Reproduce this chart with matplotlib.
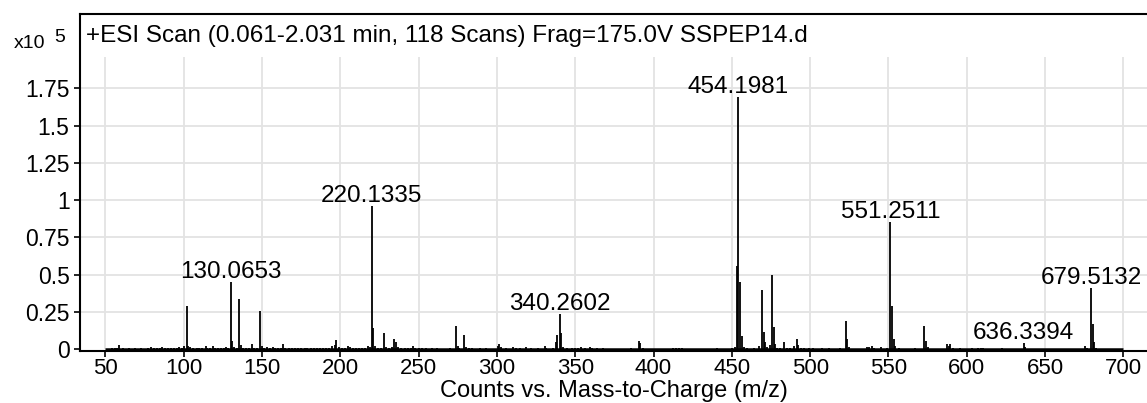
import matplotlib
matplotlib.use("Agg")
import matplotlib.pyplot as plt

# Centroided peaks: m/z and counts (x10^5)
mz = [
    51, 54, 56, 57.5, 59, 61, 63, 65, 67, 69, 71, 73, 75, 77, 79, 81, 83, 85, 86, 88,
    90, 92, 94, 96, 97, 99, 100.5, 102.05, 103, 104, 106, 108.5, 110, 112, 114, 115,
    117, 119, 120, 122, 124, 125.5, 127, 128, 130.0653, 131.07, 132, 134, 135.5, 136.5,
    138, 140, 142, 143.5, 145, 147, 149.0, 150, 151, 153, 155, 157, 158, 160, 162,
    163.5, 165, 167, 169, 171, 173, 175, 177.5, 179, 181, 183, 185, 187, 189, 191,
    193, 195, 196.5, 197.5, 199, 201, 203, 205, 206, 208, 210, 212, 214, 216, 218,
    219, 220.1335, 221.14, 222, 224, 226, 227.8, 229, 231, 233, 234.6, 235.6, 237,
    239, 241, 243, 245, 246.5, 248, 250, 252, 255, 258.6, 262, 266, 270, 273.9,
    274.9, 276, 278.9, 280, 282, 284, 289, 293, 296, 300.5, 301.5, 302.5, 306,
    310.5, 312, 315, 318.5, 322, 326, 330.5, 331.5, 336, 337.5, 338.6, 340.2602,
    341.2, 342.5, 345, 348, 350, 352, 354, 356, 359.3, 360.5, 364, 368, 372, 378,
    385.5, 390.5, 391.5, 393, 398, 405, 412.3, 414.5, 416.5, 418.5, 425, 432,
    440.4, 446, 450, 452, 453.2, 454.1981, 455.2, 456.2, 457.5, 460, 464, 467.5,
    469.3, 470.3, 471.3, 472.5, 474.3, 475.8, 476.8, 477.8, 479, 481, 483.6, 485,
    487, 489.5, 491.5, 492.5, 494, 496, 499, 502, 507.7, 512, 518.8, 522.8, 523.8,
    525, 530, 536, 537.5, 539.4, 541, 545, 549, 551.2511, 552.25, 553.3, 554.5,
    557, 561, 567, 573.0, 574.0, 575.2, 580, 587.3, 588.5, 589.5, 591, 596, 603.4,
    607.5, 609, 610.5, 615, 622.4, 628, 636.3394, 637.3, 645, 655, 665, 675.6,
    676.6, 679.5132, 680.52, 681.5, 682.5, 690, 698,
]
counts = [
    0.004, 0.006, 0.012, 0.008, 0.03, 0.006, 0.005, 0.006, 0.004, 0.012, 0.005, 0.006,
    0.005, 0.008, 0.018, 0.007, 0.006, 0.01, 0.018, 0.008,
    0.01, 0.012, 0.006, 0.012, 0.015, 0.01, 0.02, 0.288, 0.022, 0.015, 0.01, 0.012,
    0.01, 0.008, 0.022, 0.012,
    0.008, 0.024, 0.012, 0.01, 0.012, 0.008, 0.014, 0.01, 0.449, 0.058, 0.015, 0.01,
    0.34, 0.03,
    0.012, 0.008, 0.01, 0.035, 0.012, 0.01, 0.259, 0.025, 0.01, 0.015, 0.01, 0.015,
    0.012, 0.008, 0.01,
    0.035, 0.01, 0.008, 0.008, 0.01, 0.008, 0.008, 0.012, 0.008, 0.008, 0.008, 0.006,
    0.008, 0.006, 0.008,
    0.01, 0.02, 0.03, 0.065, 0.015, 0.01, 0.012, 0.02, 0.018, 0.012, 0.01, 0.008, 0.01,
    0.01, 0.025,
    0.015, 0.96, 0.145, 0.02, 0.012, 0.01, 0.109, 0.015, 0.012, 0.015, 0.069, 0.05,
    0.015,
    0.01, 0.012, 0.008, 0.012, 0.02, 0.01, 0.008, 0.006, 0.006, 0.01, 0.006, 0.005,
    0.006, 0.156,
    0.025, 0.012, 0.096, 0.015, 0.01, 0.006, 0.008, 0.008, 0.005, 0.025, 0.035, 0.015,
    0.006,
    0.015, 0.01, 0.008, 0.018, 0.006, 0.006, 0.022, 0.012, 0.008, 0.05, 0.096, 0.237,
    0.107, 0.015, 0.008, 0.01, 0.012, 0.012, 0.015, 0.006, 0.015, 0.008, 0.008, 0.008,
    0.005, 0.004,
    0.01, 0.058, 0.045, 0.01, 0.004, 0.004, 0.01, 0.01, 0.01, 0.01, 0.004, 0.004,
    0.008, 0.005, 0.006, 0.015, 0.56, 1.69, 0.45, 0.09, 0.015, 0.008, 0.006, 0.02,
    0.40, 0.118, 0.05, 0.015, 0.03, 0.50, 0.148, 0.035, 0.012, 0.008, 0.047, 0.01,
    0.008, 0.025, 0.067, 0.03, 0.012, 0.012, 0.01, 0.008, 0.008, 0.008, 0.01, 0.19,
    0.067,
    0.015, 0.005, 0.015, 0.018, 0.02, 0.01, 0.018, 0.006, 0.852, 0.29, 0.07, 0.02,
    0.008, 0.005, 0.01, 0.156, 0.058, 0.015, 0.005, 0.035, 0.02, 0.035, 0.012, 0.01,
    0.008,
    0.012, 0.012, 0.012, 0.005, 0.008, 0.004, 0.04, 0.015, 0.004, 0.004, 0.004, 0.024,
    0.012, 0.409, 0.168, 0.047, 0.012, 0.004, 0.003,
]

# Annotated peaks
labeled_mz = [130.0653, 220.1335, 340.2602, 454.1981, 551.2511, 636.3394, 679.5132]

scan_range = (50, 700)
x_ticks = list(range(50, 701, 50))
y_ticks = [0, 0.25, 0.5, 0.75, 1, 1.25, 1.5, 1.75]
y_tick_labels = ["0", "0.25", "0.5", "0.75", "1", "1.25", "1.5", "1.75"]
title = "+ESI Scan (0.061-2.031 min, 118 Scans) Frag=175.0V SSPEP14.d"
x_label = "Counts vs. Mass-to-Charge (m/z)"

plt.rcParams["font.family"] = ["Liberation Sans", "DejaVu Sans"]

W, H = 1147, 403
fig = plt.figure(figsize=(W / 100, H / 100), dpi=100)
ax = fig.add_axes([80 / W, (H - 351) / H, (W - 80) / W, (351 - 14) / H])

ax.set_xlim(33.8, 715.1)
ax.set_ylim(-0.0114, 2.249)

# grid
grid_c = "#e3e3e3"
ax.vlines(x_ticks, 0, 1.96, color=grid_c, lw=1.3, zorder=0)
ax.hlines(y_ticks[1:], 33.8, 715.1, color=grid_c, lw=1.3, zorder=0)

# spectrum
ax.plot(scan_range, [0, 0], color="black", lw=1.8, zorder=2, solid_capstyle="butt")
ax.vlines(mz, 0, counts, color="black", lw=1.3, zorder=3)

for m in labeled_mz:
    h = counts[mz.index(m)]
    ax.annotate(f"{m:.4f}", (m, h), xytext=(0, 3), textcoords="offset points",
                ha="center", va="baseline", fontsize=17.5, zorder=4)

ax.spines["right"].set_visible(False)
for side in ("left", "top", "bottom"):
    ax.spines[side].set_linewidth(1.5)

ax.set_xticks(x_ticks)
ax.set_xticklabels([str(t) for t in x_ticks])
ax.set_yticks(y_ticks)
ax.set_yticklabels(y_tick_labels)
ax.tick_params(axis="x", length=4, width=1.2, pad=1.2, labelsize=16)
ax.tick_params(axis="y", length=4.5, width=1.2, pad=3, labelsize=16.5)

fig.text(86 / W, 1 - 36 / H, title, ha="left", va="center", fontsize=17.5)
fig.text(613.5 / W, 1 - 397 / H, x_label, ha="center", va="baseline", fontsize=17)
fig.text(14 / W, 1 - 44 / H, "x10", ha="left", va="center", fontsize=14)
fig.text(54 / W, 1 - 37 / H, "5", ha="left", va="center", fontsize=14)

fig.savefig("out.png", dpi=100)
